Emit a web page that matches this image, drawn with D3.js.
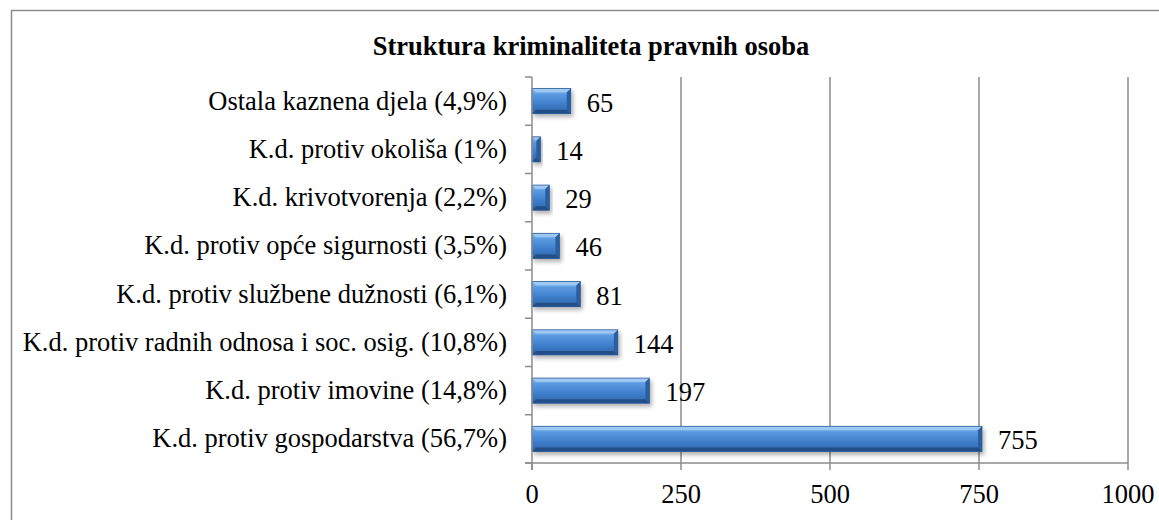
<!DOCTYPE html>
<html>
<head>
<meta charset="utf-8">
<script src="https://cdn.jsdelivr.net/npm/d3@7"></script>
<style>
  body { margin: 0; background: #fff; }
  svg text { font-family: "Liberation Serif", "Times New Roman", serif; fill: #000; }
</style>
</head>
<body>
<div id="chart"></div>
<script>
// data
var categories = [
  "Ostala kaznena djela (4,9%)",
  "K.d. protiv okoliša (1%)",
  "K.d. krivotvorenja (2,2%)",
  "K.d. protiv opće sigurnosti (3,5%)",
  "K.d. protiv službene dužnosti (6,1%)",
  "K.d. protiv radnih odnosa i soc. osig. (10,8%)",
  "K.d. protiv imovine (14,8%)",
  "K.d. protiv gospodarstva (56,7%)"
];
var values = [65, 14, 29, 46, 81, 144, 197, 755];
var xTicks = [0, 250, 500, 750, 1000];
var title = "Struktura kriminaliteta pravnih osoba";

var svgWidth = 1159;
var svgHeight = 520;
var margin = { top: 77, right: 31, bottom: 57, left: 532 };
var width = svgWidth - margin.left - margin.right;
var height = svgHeight - margin.top - margin.bottom;
var fontSize = "26.5px";

var svg = d3.select("#chart").append("svg")
  .attr("width", svgWidth)
  .attr("height", svgHeight);

// gradient + shadow for the bevelled bars
var defs = svg.append("defs");
var grad = defs.append("linearGradient")
  .attr("id", "barGrad")
  .attr("x1", 0).attr("y1", 0).attr("x2", 0).attr("y2", 1);
grad.append("stop").attr("offset", "0%").attr("stop-color", "#8fbdf0");
grad.append("stop").attr("offset", "22%").attr("stop-color", "#5c9be2");
grad.append("stop").attr("offset", "60%").attr("stop-color", "#3f7fcc");
grad.append("stop").attr("offset", "100%").attr("stop-color", "#2d64a8");

var shadow = defs.append("filter").attr("id", "shadow")
  .attr("x", "-10%").attr("y", "-30%").attr("width", "130%").attr("height", "190%");
shadow.append("feDropShadow")
  .attr("dx", 2).attr("dy", 3).attr("stdDeviation", 2)
  .attr("flood-color", "#000").attr("flood-opacity", 0.3);

// outer frame (runs past the image on right and bottom)
svg.append("rect")
  .attr("x", 11.5).attr("y", 10.5)
  .attr("width", svgWidth + 20).attr("height", svgHeight + 20)
  .attr("fill", "none")
  .attr("stroke", "#8c8c8c")
  .attr("stroke-width", 1.5);

svg.append("text")
  .attr("x", 591)
  .attr("y", 55)
  .attr("text-anchor", "middle")
  .attr("font-size", fontSize)
  .attr("font-weight", "bold")
  .text(title);

var chartGroup = svg.append("g")
  .attr("transform", `translate(${margin.left}, ${margin.top})`);

var x = d3.scaleLinear().domain([0, 1000]).range([0, width]);
var y = d3.scaleBand().domain(categories).range([0, height]).paddingInner(0.48).paddingOuter(0.24);
var yb = d3.scaleBand().domain(categories).range([0, height]);

// vertical gridlines
chartGroup.selectAll(".grid")
  .data(xTicks.slice(1))
  .enter()
  .append("line")
  .attr("x1", d => x(d)).attr("x2", d => x(d))
  .attr("y1", 0).attr("y2", height)
  .attr("stroke", "#8c8c8c")
  .attr("stroke-width", 1.5);

// bars
var bars = chartGroup.selectAll(".bar")
  .data(values)
  .enter()
  .append("g")
  .attr("filter", "url(#shadow)");

bars.append("rect")
  .attr("x", 0)
  .attr("y", (d, i) => y(categories[i]))
  .attr("width", d => x(d))
  .attr("height", y.bandwidth())
  .attr("fill", "url(#barGrad)");

// bevel: light top strip, dark bottom strip, dark right end
var bev = 4;
bars.append("path")
  .attr("d", function(d, i) {
    var y0 = y(categories[i]), w = x(d);
    var b = Math.min(bev, w / 2);
    return `M0,${y0} L${w},${y0} L${w - b},${y0 + b} L${b},${y0 + b} Z`;
  })
  .attr("fill", "#a9d0f7")
  .attr("opacity", 0.75);
bars.append("path")
  .attr("d", function(d, i) {
    var y0 = y(categories[i]), w = x(d), h = y.bandwidth();
    var b = Math.min(bev, w / 2);
    return `M${w},${y0} L${w},${y0 + h} L${w - b},${y0 + h - b} L${w - b},${y0 + b} Z`;
  })
  .attr("fill", "#2c5e9e");
bars.append("path")
  .attr("d", function(d, i) {
    var y0 = y(categories[i]), w = x(d), h = y.bandwidth();
    var b = Math.min(bev, w / 2);
    return `M0,${y0 + h} L${w},${y0 + h} L${w - b},${y0 + h - b} L${b},${y0 + h - b} Z`;
  })
  .attr("fill", "#234f88");
bars.append("rect")
  .attr("x", 0)
  .attr("y", (d, i) => y(categories[i]))
  .attr("width", d => x(d))
  .attr("height", y.bandwidth())
  .attr("fill", "none")
  .attr("stroke", "#2a5a96")
  .attr("stroke-width", 0.8);

// value labels
chartGroup.selectAll(".val")
  .data(values)
  .enter()
  .append("text")
  .attr("x", d => x(d) + 16)
  .attr("y", (d, i) => y(categories[i]) + y.bandwidth() / 2 + 10.5)
  .attr("font-size", fontSize)
  .text(d => d);

// left axis
chartGroup.append("line")
  .attr("x1", 0).attr("x2", 0).attr("y1", 0).attr("y2", height + 7)
  .attr("stroke", "#8c8c8c").attr("stroke-width", 1.5);
chartGroup.selectAll(".ytick")
  .data(d3.range(categories.length + 1))
  .enter()
  .append("line")
  .attr("x1", -7).attr("x2", 0)
  .attr("y1", d => d * yb.step()).attr("y2", d => d * yb.step())
  .attr("stroke", "#8c8c8c").attr("stroke-width", 1.5);

chartGroup.selectAll(".ylab")
  .data(categories)
  .enter()
  .append("text")
  .attr("x", -25)
  .attr("y", d => yb(d) + yb.bandwidth() / 2 + 8.5)
  .attr("text-anchor", "end")
  .attr("font-size", fontSize)
  .text(d => d);

// bottom axis
chartGroup.append("line")
  .attr("x1", -7).attr("x2", width).attr("y1", height).attr("y2", height)
  .attr("stroke", "#8c8c8c").attr("stroke-width", 1.5);
chartGroup.selectAll(".xtick")
  .data(xTicks)
  .enter()
  .append("line")
  .attr("x1", d => x(d)).attr("x2", d => x(d))
  .attr("y1", height).attr("y2", height + 7)
  .attr("stroke", "#8c8c8c").attr("stroke-width", 1.5);
chartGroup.selectAll(".xlab")
  .data(xTicks)
  .enter()
  .append("text")
  .attr("x", d => x(d))
  .attr("y", height + 40)
  .attr("text-anchor", "middle")
  .attr("font-size", fontSize)
  .text(d => d);
</script>
</body>
</html>
